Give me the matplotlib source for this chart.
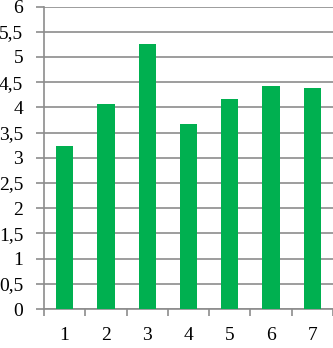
import matplotlib.pyplot as plt
import numpy as np
from matplotlib.ticker import FixedLocator, FuncFormatter

categories = ['1', '2', '3', '4', '5', '6', '7']
values = [3.24, 4.07, 5.26, 3.66, 4.16, 4.42, 4.39]

plt.rcParams['font.family'] = ['Liberation Serif', 'DejaVu Serif']

fig = plt.figure(figsize=(3.33, 3.48), dpi=100)
ax = fig.add_axes([44 / 333, 39 / 348, 289 / 333, 302.5 / 348])

x = np.arange(1, len(categories) + 1)
ax.bar(x, values, width=0.42, color='#00B050', zorder=3)

ax.set_xlim(0.5, len(categories) + 0.5)
ax.set_ylim(0, 6)
ax.set_yticks(np.arange(0, 6.01, 0.5))
ax.yaxis.set_major_formatter(FuncFormatter(lambda v, p: ('%g' % v).replace('.', ',')))
ax.grid(axis='y', color='#8c8c8c', linewidth=1.2, zorder=0)

# ticks at category boundaries, labels at centers
ax.xaxis.set_major_locator(FixedLocator(np.arange(0.5, len(categories) + 1, 1)))
ax.xaxis.set_major_formatter(FuncFormatter(lambda v, p: ''))
ax.xaxis.set_minor_locator(FixedLocator(x))
ax.set_xticklabels(categories, minor=True)
ax.tick_params(axis='x', which='major', direction='out', length=5, color='#8c8c8c', width=1.2)
ax.tick_params(axis='x', which='minor', length=0, pad=13, labelsize=14)
ax.tick_params(axis='y', direction='out', length=6, color='#8c8c8c', width=1.2, pad=9, labelsize=14)

for s in ['top', 'right']:
    ax.spines[s].set_visible(False)
for s in ['left', 'bottom']:
    ax.spines[s].set_color('#8c8c8c')
    ax.spines[s].set_linewidth(1.2)

fig.savefig('out.png', dpi=100)
